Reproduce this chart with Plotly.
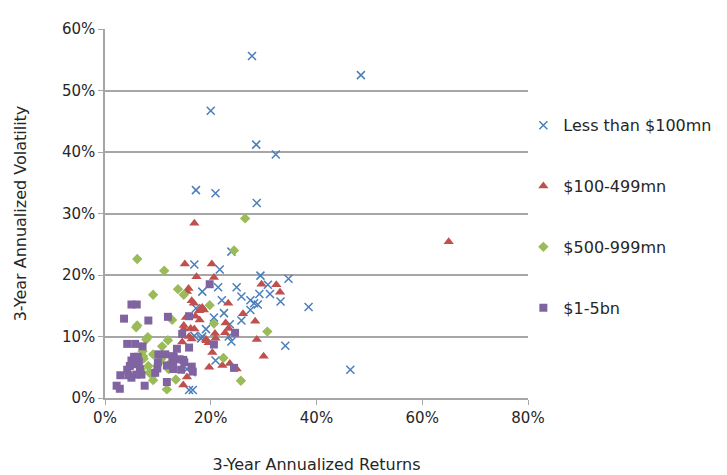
import plotly.graph_objects as go

# Less than $100mn
less100_x = [27.8, 48.4, 20.0, 28.6, 32.3, 17.2, 20.9, 28.7, 23.9, 21.7, 29.4, 34.7, 16.9, 21.4, 24.9,
             30.8, 29.2, 31.2, 18.4, 25.8, 22.1, 27.5, 28.2, 28.9, 27.5, 33.2, 38.5, 22.5, 25.8, 20.6,
             23.6, 19.1, 23.4, 23.9, 34.1, 20.9, 46.4, 17.2, 16.9, 18.4, 15.5, 16.4, 15.9, 16.6, 18.2]
less100_y = [55.6, 52.5, 46.7, 41.2, 39.6, 33.8, 33.3, 31.7, 23.8, 20.9, 19.9, 19.4, 21.7, 18.0, 18.0,
             18.4, 16.9, 16.9, 17.3, 16.5, 15.9, 15.9, 15.4, 15.2, 14.3, 15.7, 14.8, 13.8, 12.6, 13.1,
             12.0, 11.2, 10.0, 9.2, 8.5, 6.1, 4.6, 14.6, 10.1, 10.0, 4.7, 4.2, 1.3, 1.3, 9.7]

# $100-499mn
mid_x = [16.9, 65.0, 20.2, 15.1, 20.6, 17.3, 29.6, 32.4, 33.1, 15.8, 15.5, 23.3, 18.4, 18.7, 16.4,
         16.8, 18.1, 17.8, 26.1, 28.4, 22.8, 23.4, 22.7, 20.8, 20.9, 19.1, 19.6, 28.7, 20.3, 30.0,
         19.7, 22.2, 23.6, 24.9, 15.3, 17.1, 17.9, 14.9, 16.2, 16.9, 14.9, 15.9, 16.4, 19.2, 14.6,
         15.5, 14.8]
mid_y = [28.4, 25.4, 21.8, 21.8, 19.6, 19.7, 18.5, 18.4, 17.2, 17.8, 17.3, 15.4, 14.7, 14.3, 15.8,
         15.4, 14.5, 14.2, 13.7, 12.5, 12.2, 11.3, 10.6, 10.5, 9.7, 9.5, 9.0, 9.5, 7.4, 6.8,
         5.0, 5.3, 5.6, 4.7, 13.1, 13.3, 12.7, 11.8, 11.3, 11.2, 11.2, 10.0, 9.6, 9.3, 9.1,
         3.4, 2.1]

# $500-999mn
big_x = [26.5, 24.4, 6.1, 11.2, 13.8, 14.9, 9.1, 19.8, 12.7, 20.6, 6.1, 5.9, 30.7, 8.1, 7.8,
         11.9, 10.8, 7.1, 7.2, 9.1, 10.6, 10.3, 22.4, 12.0, 8.2, 8.4, 9.1, 13.4, 11.7, 9.1,
         25.7, 12.1, 6.8, 7.3]
big_y = [29.2, 24.0, 22.6, 20.7, 17.7, 16.8, 16.8, 15.1, 12.7, 12.1, 11.8, 11.5, 10.8, 9.9, 9.5,
         9.4, 8.4, 7.6, 6.8, 7.1, 6.3, 5.8, 6.5, 4.7, 5.2, 4.1, 3.7, 3.0, 1.4, 2.9,
         2.8, 5.5, 4.7, 6.4]

# $1-5bn
bn_x = [19.8, 24.6, 20.6, 24.4, 5.0, 6.0, 3.6, 8.2, 11.9, 15.9, 14.6, 15.9, 13.6, 4.2, 5.7,
        7.1, 14.8, 16.4, 16.6, 11.7, 5.5, 6.2, 10.1, 11.4, 13.0, 12.9, 10.0, 9.9, 9.5, 5.0,
        4.7, 5.6, 6.4, 6.6, 4.2, 4.4, 5.0, 5.9, 6.9, 2.9, 2.2, 2.8, 7.5, 11.7, 12.8,
        12.8, 14.1, 15.0, 12.9, 14.4]
bn_y = [18.5, 10.6, 8.7, 4.9, 15.2, 15.2, 12.9, 12.6, 13.2, 13.3, 10.4, 8.2, 8.0, 8.8, 8.8,
        8.4, 6.2, 5.1, 4.3, 2.6, 6.7, 6.7, 7.1, 7.1, 6.7, 6.0, 5.8, 4.8, 4.1, 6.1,
        5.2, 5.5, 5.9, 4.7, 4.6, 3.7, 3.3, 3.8, 3.8, 3.7, 2.0, 1.5, 2.0, 5.3, 5.9,
        6.8, 6.3, 5.8, 4.7, 4.6]

series_names = ["Less than $100mn", "$100-499mn", "$500-999mn", "$1-5bn"]
colors = ["#4A7EBB", "#C0504D", "#9BBB59", "#8064A2"]

fig = go.Figure()
fig.add_trace(go.Scatter(x=less100_x, y=less100_y, mode="markers", name=series_names[0],
                         legendgroup="a",
                         marker=dict(symbol="x-thin", size=8, line=dict(color=colors[0], width=1.5), color=colors[0])))
fig.add_trace(go.Scatter(x=mid_x, y=mid_y, mode="markers", name=series_names[1], legendgroup="b",
                         marker=dict(symbol="triangle-up", size=9, color=colors[1])))
fig.add_trace(go.Scatter(x=big_x, y=big_y, mode="markers", name=series_names[2], legendgroup="c",
                         marker=dict(symbol="diamond", size=8, color=colors[2])))
fig.add_trace(go.Scatter(x=bn_x, y=bn_y, mode="markers", name=series_names[3], legendgroup="d",
                         marker=dict(symbol="square", size=8, color=colors[3])))

font_family = "DejaVu Sans"
fig.update_layout(
    width=727, height=475,
    margin=dict(l=94, r=207, t=12, b=83),
    paper_bgcolor="white", plot_bgcolor="white",
    font=dict(family=font_family, size=14, color="#262626"),
    showlegend=True,
    legend=dict(x=0.989, y=0.785, xanchor="left", yanchor="top", tracegroupgap=37,
                font=dict(size=16, color="#262626"), bgcolor="rgba(0,0,0,0)", itemwidth=30),
    xaxis=dict(range=[0, 80], dtick=20, ticksuffix="%", showgrid=False, zeroline=False,
               showline=True, linecolor="#A6A6A6", linewidth=1.5, ticks="outside", ticklen=5,
               tickcolor="#A6A6A6", tickfont=dict(size=15),
               title=dict(text="3-Year Annualized Returns", font=dict(size=16), standoff=33)),
    yaxis=dict(range=[0, 60], dtick=10, ticksuffix="%", showgrid=True, gridcolor="#A6A6A6", gridwidth=1.5,
               zeroline=False, showline=True, linecolor="#A6A6A6", linewidth=1.5, ticks="outside",
               ticklen=5, tickcolor="#A6A6A6", tickfont=dict(size=15),
               title=dict(text="3-Year Annualized Volatility", font=dict(size=16), standoff=31)),
)

fig.write_html("out.html")
